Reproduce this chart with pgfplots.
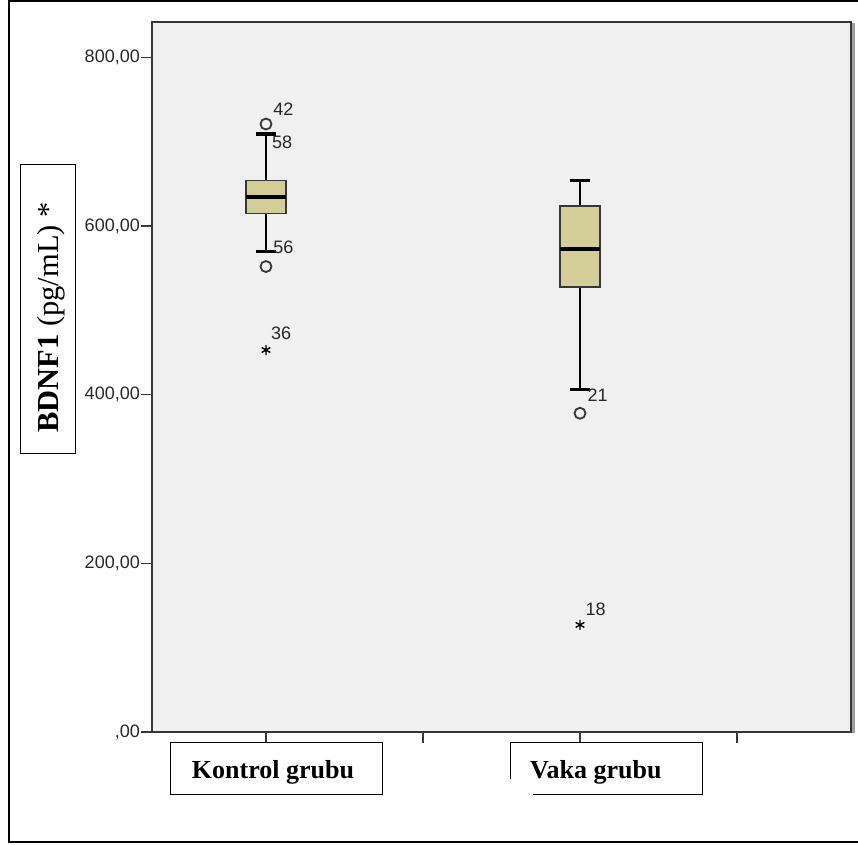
\documentclass[border=0pt]{standalone}
\usepackage{pgfplots}
\pgfplotsset{compat=1.18}
\usepackage{fontspec}
\setmainfont{Liberation Sans}
\newfontfamily\timesfont{Liberation Serif}
\definecolor{plotbg}{RGB}{240,240,240}
\definecolor{boxfill}{RGB}{211,206,152}
\definecolor{axisgrey}{RGB}{55,55,55}
\definecolor{ticktext}{RGB}{40,40,40}
\begin{document}
\begin{tikzpicture}
\useasboundingbox (0pt,0pt) rectangle (858pt,844pt);
\begin{scope}[x=1pt,y=1pt]
\draw[line width=1.6pt] (858,843) -- (9,843) -- (9,2) -- (858,2);
\fill[gray!75] (851.5,111) rectangle (854.5,821);
\end{scope}
\begin{axis}[
  at={(152pt,112pt)}, anchor=south west,
  width=699pt, height=710pt, scale only axis,
  xmin=0.274, xmax=4.726, ymin=0, ymax=842,
  axis background/.style={fill=plotbg},
  axis line style={axisgrey, line width=1.4pt},
  xtick={1,2,3,4}, xticklabels={},
  ytick={0,200,400,600,800},
  yticklabels={{,00},{200,00},{400,00},{600,00},{800,00}},
  tick align=outside, major tick length=11pt,
  tick style={axisgrey, line width=1.4pt},
  xtick pos=bottom, ytick pos=left,
  /pgf/number format/assume math mode=true,
  tick label style={font=\fontsize{18}{18}\selectfont, text=ticktext},
  yticklabel style={inner sep=1pt},
  clip=false,
]
% Kontrol grubu: whiskers 570/709, box 615-654, median 634
\addplot[black, line width=2.2pt] coordinates {(1,570) (1,615)};
\addplot[black, line width=2.2pt] coordinates {(1,654) (1,709)};
\addplot[black, line width=3.4pt] coordinates {(0.9365,570) (1.0635,570)};
\addplot[black, line width=3.4pt] coordinates {(0.9365,709) (1.0635,709)};
\addplot[fill=boxfill, draw=axisgrey, line width=1.5pt] coordinates {(0.8725,615) (1.1275,615) (1.1275,654) (0.8725,654)} -- cycle;
\addplot[black, line width=3.8pt] coordinates {(0.8725,634) (1.1275,634)};
% Vaka grubu: whiskers 406.5/654, box 528-624, median 573
\addplot[black, line width=2.2pt] coordinates {(3,406.5) (3,528)};
\addplot[black, line width=2.2pt] coordinates {(3,624) (3,654)};
\addplot[black, line width=3.4pt] coordinates {(2.9365,406.5) (3.0635,406.5)};
\addplot[black, line width=3.4pt] coordinates {(2.9365,654) (3.0635,654)};
\addplot[fill=boxfill, draw=axisgrey, line width=1.5pt] coordinates {(2.8725,528) (3.1275,528) (3.1275,624) (2.8725,624)} -- cycle;
\addplot[black, line width=3.8pt] coordinates {(2.8725,573) (3.1275,573)};
% outliers
\addplot[only marks, mark=o, mark size=5.5pt,
  mark options={line width=1.8pt, draw=axisgrey}]
  coordinates {(1,721) (1,552) (3,378)};
\addplot[only marks, mark=asterisk, mark size=5pt,
  mark options={line width=1.4pt, draw=black}]
  coordinates {(1,453) (3,127)};
\node[anchor=west, inner sep=0pt, font=\fontsize{18}{18}\selectfont, text=ticktext] at (axis cs:1.045,739) {42};
\node[anchor=west, inner sep=0pt, font=\fontsize{18}{18}\selectfont, text=ticktext] at (axis cs:1.038,699) {58};
\node[anchor=west, inner sep=0pt, font=\fontsize{18}{18}\selectfont, text=ticktext] at (axis cs:1.045,575) {56};
\node[anchor=west, inner sep=0pt, font=\fontsize{18}{18}\selectfont, text=ticktext] at (axis cs:1.032,473) {36};
\node[anchor=west, inner sep=0pt, font=\fontsize{18}{18}\selectfont, text=ticktext] at (axis cs:3.047,399) {21};
\node[anchor=west, inner sep=0pt, font=\fontsize{18}{18}\selectfont, text=ticktext] at (axis cs:3.034,146) {18};
\end{axis}
\begin{scope}[x=1pt,y=1pt]
\draw[line width=1pt] (170,102) rectangle (382,50);
\node[anchor=base, inner sep=0pt, font=\timesfont\bfseries\fontsize{26}{26}\selectfont] at (273,66) {Kontrol grubu};
\draw[line width=1pt] (510,65) -- (510,102) -- (702,102) -- (702,50) -- (533,50);
\node[anchor=base west, inner sep=0pt, font=\timesfont\bfseries\fontsize{26}{26}\selectfont] at (530,66) {Vaka grubu};
\draw[line width=1pt] (20,679) rectangle (75,391);
\node[anchor=base, rotate=90, inner sep=0pt, font=\timesfont\fontsize{30.5}{30.5}\selectfont] at (58,526.5) {\textbf{BDNF1} (pg/mL) *};
\end{scope}
\end{tikzpicture}
\end{document}
